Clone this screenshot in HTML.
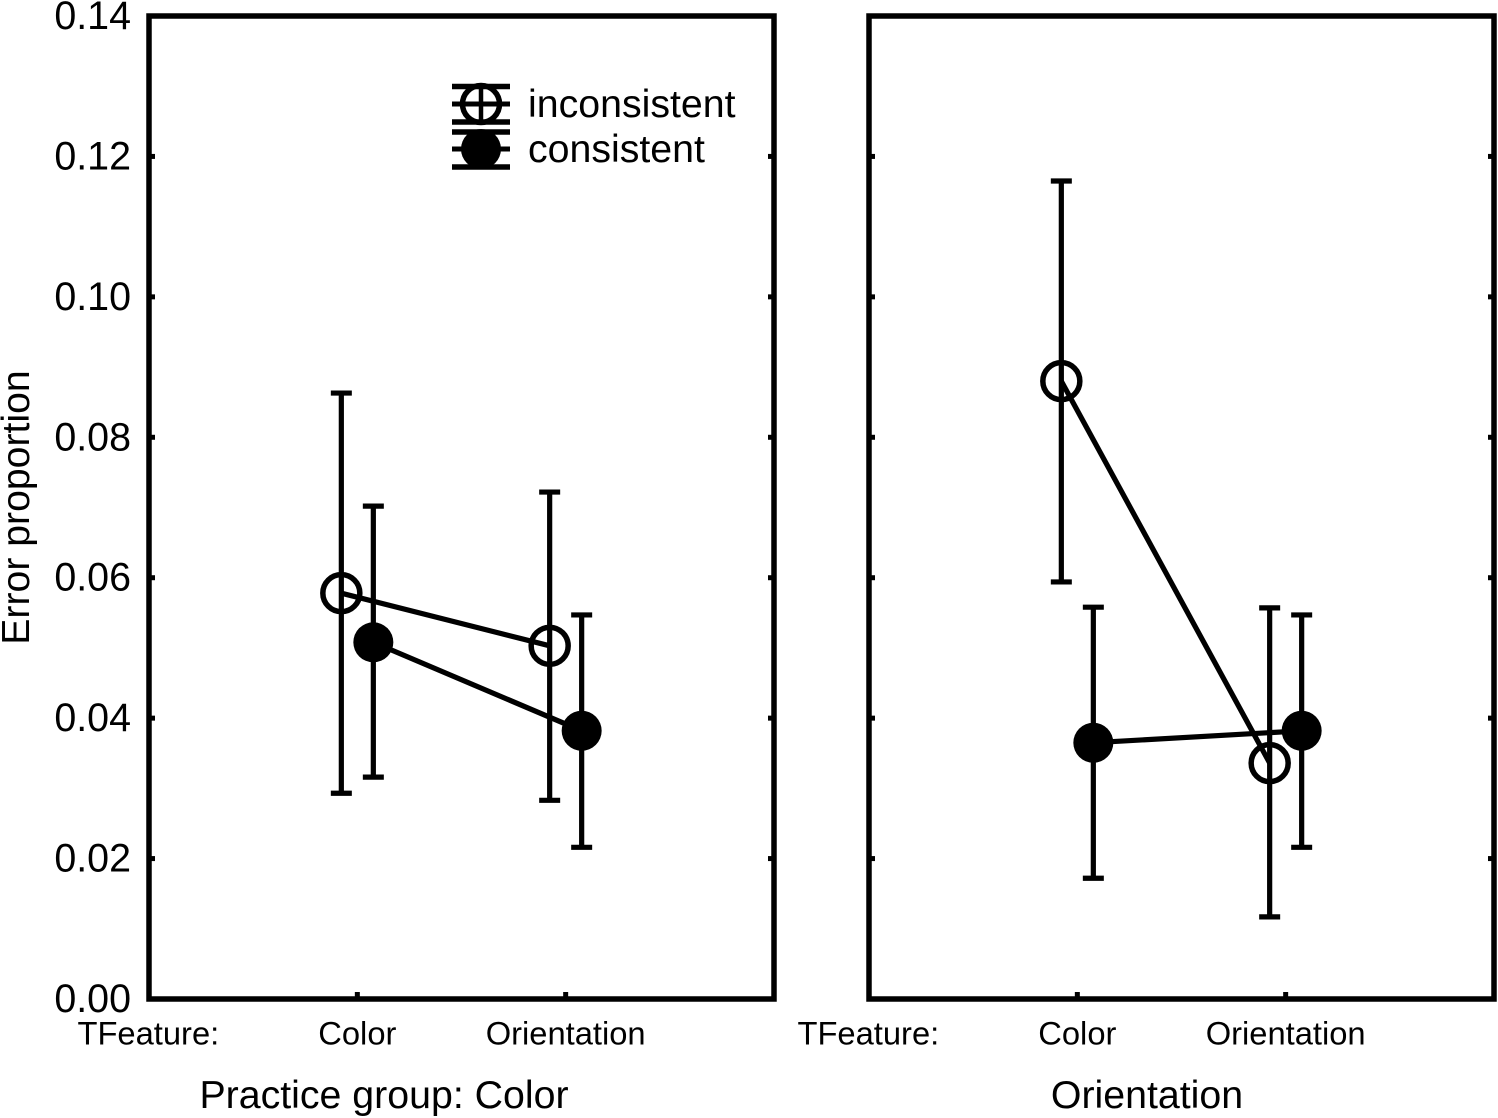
<!DOCTYPE html>
<html lang="en">
<head>
<meta charset="utf-8">
<title>Error proportion chart</title>
<style>
html,body{margin:0;padding:0;background:#fff;}
svg{display:block;}
text{font-family:"Liberation Sans",Arial,sans-serif;fill:#000;}
</style>
</head>
<body>
<svg id="chart" xmlns="http://www.w3.org/2000/svg" width="1498" height="1118" viewBox="0 0 1498 1118">
  <rect x="0" y="0" width="1498" height="1118" fill="#fff"/>
  <text transform="translate(29,507.5) rotate(-90)" text-anchor="middle" font-size="39.2">Error proportion</text>
  <text x="384" y="1108" text-anchor="middle" font-size="39.3">Practice group: Color</text>
  <text x="1147" y="1108" text-anchor="middle" font-size="39.3">Orientation</text>
  <text x="77.5" y="1044.5" font-size="32.7">TFeature:</text>
  <text x="797.5" y="1044.5" font-size="32.7">TFeature:</text>
  <g id="plot"></g>
  <g>
    <g stroke="#000" fill="none">
      <line x1="452" x2="510" y1="86.5" y2="86.5" stroke-width="5.5"/>
      <line x1="452" x2="510" y1="104" y2="104" stroke-width="5"/>
      <line x1="452" x2="510" y1="122" y2="122" stroke-width="5.5"/>
      <line x1="481" x2="481" y1="86" y2="122" stroke-width="4.5"/>
      <circle cx="481" cy="104" r="18.5" stroke-width="5.5"/>
    </g>
    <text x="528" y="117" font-size="39.3">inconsistent</text>
    <g stroke="#000" fill="none">
      <line x1="452" x2="510" y1="132" y2="132" stroke-width="5.5"/>
      <line x1="452" x2="510" y1="149" y2="149" stroke-width="5"/>
      <line x1="452" x2="510" y1="167" y2="167" stroke-width="5.5"/>
      <circle cx="481" cy="149" r="20" fill="#000" stroke="none"/>
    </g>
    <text x="528" y="162" font-size="39.3">consistent</text>
  </g>
</svg>
<script>
var yTickValues = [0, 0.02, 0.04, 0.06, 0.08, 0.10, 0.12, 0.14];
var categories = ["Color", "Orientation"];

var colorInconsistentMean = [0.0578, 0.0503];
var colorInconsistentUpper = [0.0863, 0.0722];
var colorInconsistentLower = [0.0293, 0.0283];

var colorConsistentMean = [0.0508, 0.0382];
var colorConsistentUpper = [0.0702, 0.0547];
var colorConsistentLower = [0.0316, 0.0216];

var orientationInconsistentMean = [0.0880, 0.0336];
var orientationInconsistentUpper = [0.1165, 0.0557];
var orientationInconsistentLower = [0.0594, 0.0117];

var orientationConsistentMean = [0.0365, 0.0382];
var orientationConsistentUpper = [0.0558, 0.0547];
var orientationConsistentLower = [0.0172, 0.0216];

var NS = 'http://www.w3.org/2000/svg';
var plot = document.getElementById('plot');
var yTop = 16, yBottom = 999, yMax = 0.14;
var panelWidth = 625;
var seriesOffset = 16;

function yScale(v) {
  return yBottom - (v / yMax) * (yBottom - yTop);
}
function xScale(panelLeft, i) {
  return panelLeft + panelWidth * (i + 1) / (categories.length + 1);
}
function svgEl(tag, attrs, parent) {
  var el = document.createElementNS(NS, tag);
  for (var k in attrs) el.setAttribute(k, attrs[k]);
  parent.appendChild(el);
  return el;
}

function drawFrame(panelLeft, prefix) {
  var right = panelLeft + panelWidth;
  var frame = svgEl('rect', {x: panelLeft, y: yTop, width: panelWidth, height: yBottom - yTop, fill: 'none', stroke: '#000', 'stroke-width': 5.5}, plot);
  
  
  yTickValues.forEach(function (v) {
    if (v === 0 || v === yMax) return;
    var y = yScale(v);
    var t1 = svgEl('line', {x1: panelLeft, x2: panelLeft + 6, y1: y, y2: y, stroke: '#000', 'stroke-width': 5}, plot);
    
    
    var t2 = svgEl('line', {x1: right - 6, x2: right, y1: y, y2: y, stroke: '#000', 'stroke-width': 5}, plot);
    
    
  });
  categories.forEach(function (c, i) {
    var x = xScale(panelLeft, i);
    var t = svgEl('line', {x1: x, x2: x, y1: yBottom - 7, y2: yBottom, stroke: '#000', 'stroke-width': 5}, plot);
    
    
    var label = svgEl('text', {x: x, y: 1044.5, 'text-anchor': 'middle', 'font-size': 32.7}, plot);
    label.textContent = c;
    
    
  });
}

function drawSeries(panelLeft, offset, means, uppers, lowers, filled, name) {
  var g = svgEl('g', {}, plot);
  
  
  var pts = means.map(function (m, i) {
    return (xScale(panelLeft, i) + offset).toFixed(1) + ',' + yScale(m).toFixed(1);
  }).join(' ');
  means.forEach(function (m, i) {
    var x = xScale(panelLeft, i) + offset;
    var up = yScale(uppers[i]), lo = yScale(lowers[i]);
    var bar = svgEl('path', {
      d: 'M' + x + ' ' + up + 'V' + lo + 'M' + (x - 10.5) + ' ' + up + 'H' + (x + 10.5) + 'M' + (x - 10.5) + ' ' + lo + 'H' + (x + 10.5),
      fill: 'none', stroke: '#000', 'stroke-width': 5.2
    }, g);
    
    
  });
  var line = svgEl('polyline', {points: pts, fill: 'none', stroke: '#000', 'stroke-width': 5.2}, g);
  
  
  means.forEach(function (m, i) {
    var x = xScale(panelLeft, i) + offset;
    var y = yScale(m);
    var attrs = filled
      ? {cx: x, cy: y, r: 20, fill: '#000'}
      : {cx: x, cy: y, r: 18.5, fill: 'none', stroke: '#000', 'stroke-width': 5.5};
    var pt = svgEl('circle', attrs, g);
    
    
  });
}

yTickValues.forEach(function (v) {
  var label = svgEl('text', {x: 131, y: yScale(v) + 13, 'text-anchor': 'end', 'font-size': 39.4}, plot);
  label.textContent = v.toFixed(2);
  
  
});

drawFrame(149, 'color');
drawFrame(869, 'orientation');
drawSeries(149, -seriesOffset, colorInconsistentMean, colorInconsistentUpper, colorInconsistentLower, false, 'color-inconsistent');
drawSeries(149, seriesOffset, colorConsistentMean, colorConsistentUpper, colorConsistentLower, true, 'color-consistent');
drawSeries(869, -seriesOffset, orientationInconsistentMean, orientationInconsistentUpper, orientationInconsistentLower, false, 'orientation-inconsistent');
drawSeries(869, seriesOffset, orientationConsistentMean, orientationConsistentUpper, orientationConsistentLower, true, 'orientation-consistent');
</script>
</body>
</html>
